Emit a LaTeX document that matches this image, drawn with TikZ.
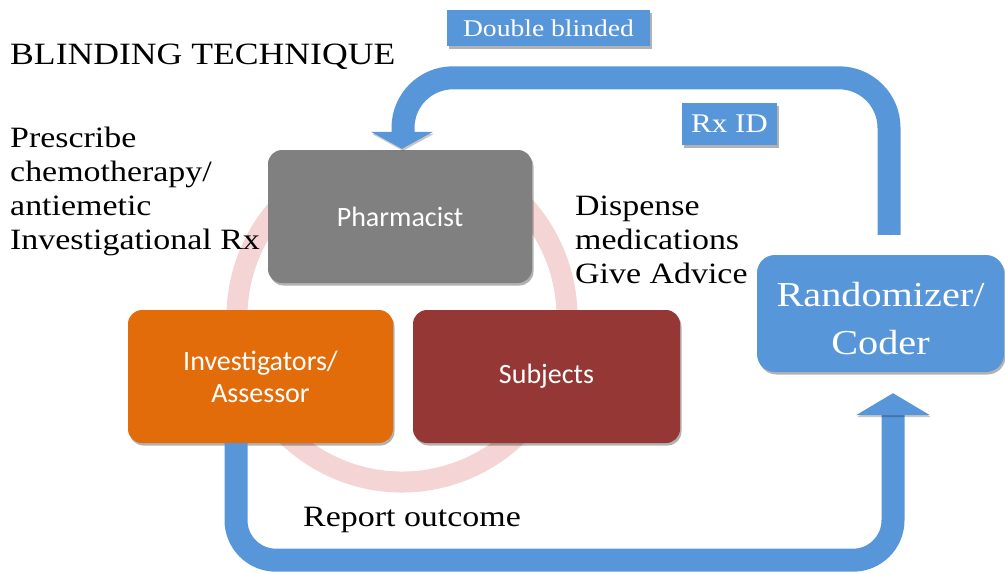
\documentclass[tikz,border=0pt]{standalone}
\usepackage{fontspec}
\newfontfamily\slidefont[FakeStretch=1.15]{Liberation Serif}
\newfontfamily\boxfont{Carlito}
\usetikzlibrary{calc,shadows}

\definecolor{flowblue}{RGB}{88,150,218}
\definecolor{pharmgray}{RGB}{128,128,128}
\definecolor{invorange}{RGB}{227,108,10}
\definecolor{subjred}{RGB}{149,55,53}
\definecolor{ringpink}{RGB}{244,212,212}

\begin{document}
\begin{tikzpicture}[x=1pt,y=-1pt,
  every node/.style={inner sep=0pt},
  softshadow/.style={drop shadow={shadow xshift=1.5pt, shadow yshift=-2.5pt, fill=black, opacity=0.3}},
  role/.style={rounded corners=14pt, minimum height=133pt, text=white, align=center,
    font=\boxfont\fontsize{28}{32}\selectfont, softshadow},
  tag/.style={fill=flowblue, text=white, font=\slidefont\fontsize{24}{28}\selectfont, softshadow},
  note/.style={anchor=north west, align=left, font=\slidefont\fontsize{29.5}{34}\selectfont},
  flow/.style={draw=flowblue, line width=23pt,
    preaction={draw=black, opacity=0.22, transform canvas={xshift=1pt, yshift=-2pt}}},
  flowhead/.style={fill=flowblue,
    preaction={fill=black, opacity=0.22, transform canvas={xshift=1pt, yshift=-2pt}}},
]
\useasboundingbox (0,0) rectangle (1005,574);

% faint cycle ring behind the three roles (y axis points down, so the
% arc runs from behind the pharmacist, under the roles, and back behind it)
\coordinate (hub) at (402,317);
\draw[ringpink, line width=21pt] ($(hub)+(-60:165)$) arc[start angle=-60, end angle=240, radius=165];

% role boxes
\node[role, fill=pharmgray, minimum width=264pt] (pharm) at (400,216.5) {Pharmacist};
\node[role, fill=invorange, minimum width=265pt] (inv) at (260.5,376.5) {Investigators/\\Assessor};
\node[role, fill=subjred, minimum width=267pt] (subj) at (546.5,376.5) {Subjects};
\node[role, fill=flowblue, rounded corners=18pt, minimum width=247pt, minimum height=117pt,
  font=\slidefont\fontsize{35}{48}\selectfont] (rand) at (880.5,313.5) {\rule{0pt}{34pt}Randomizer/\\Coder};

% coded prescription path: randomizer -> pharmacist
\coordinate (topStart) at ($(rand.north)+(8.5,-20)$);
\coordinate (topTip) at ($(pharm.north)+(2,-1)$);
\draw[flow, rounded corners=50pt] (topStart) |- ($(topTip)+(1,-71)$) -- ($(topTip)+(1,-15)$);
\fill[flowhead] (topTip) -- ++(-31,-17) -- ++(62,0) -- cycle;

% outcome path: investigators -> randomizer
\coordinate (botStart) at ($(inv.south)+(-24.5,0)$);
\coordinate (botTip) at ($(rand.south)+(12.5,21)$);
\draw[flow, rounded corners=40pt] (botStart) |- ($(botTip)+(0,167)$) -- ($(botTip)+(0,20)$);
\fill[flowhead] (botTip) -- ++(-37,22) -- ++(74,0) -- cycle;

% tags on the path
\node[tag, minimum width=203pt, minimum height=36pt] (dbl) at (548.5,28) {Double blinded};
\node[tag, minimum width=95pt, minimum height=42pt, font=\slidefont\fontsize{27}{30}\selectfont] (rxid) at (729.5,124) {Rx ID};

% text
\node[anchor=base west, font=\slidefont\fontsize{31}{36}\selectfont] (title) at (10,64) {BLINDING TECHNIQUE};
\node[note] (prescribe) at (10,127) {Prescribe\\chemotherapy/\\antiemetic\\Investigational Rx};
\node[note] (dispense) at (575,196) {Dispense\\medications\\Give Advice};
\node[anchor=base west, font=\slidefont\fontsize{29.5}{34}\selectfont] (report) at (303,526) {Report outcome};
\end{tikzpicture}
\end{document}
